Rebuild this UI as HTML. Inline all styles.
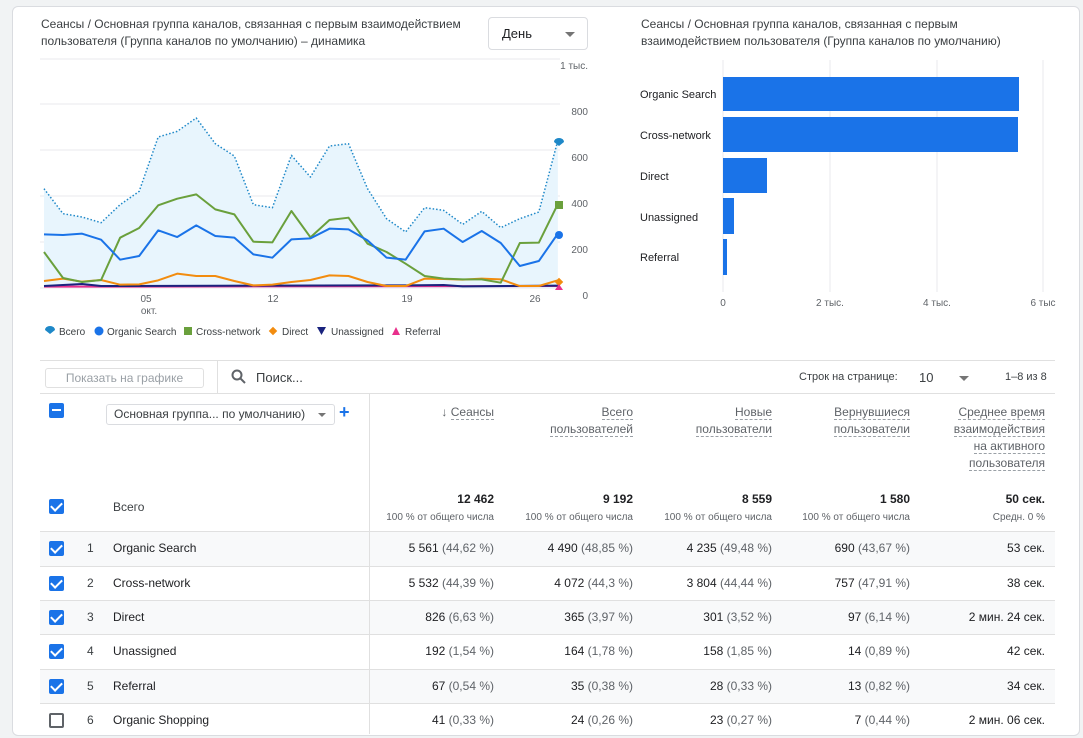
<!DOCTYPE html>
<html><head><meta charset="utf-8"><style>
*{margin:0;padding:0;box-sizing:border-box}
body{width:1083px;height:725px;overflow:hidden;background:#f1f3f4;font-family:"Liberation Sans",Arial,sans-serif;color:#3c4043;position:relative}
.card{position:absolute;left:12px;top:6px;width:1068px;height:730px;background:#fff;border:1px solid #dadce0;border-radius:6px}
.a{position:absolute;white-space:nowrap}
.t{font-size:12px;line-height:17px;color:#3c4043}
.hd{font-size:12px;line-height:17px;text-align:right;color:#5f6368}
.hd span{border-bottom:1px dashed #9aa0a6}
.num{font-size:12px;color:#202124;text-align:right}
.num i{font-style:normal;color:#5f6368}
.sub{font-size:10px;color:#5f6368;text-align:right}
.cb{position:absolute;left:49px;width:15px;height:15px;background:#1a73e8;border-radius:2px}
.cb:after{content:"";position:absolute;left:4px;top:1px;width:5px;height:9px;border:solid #fff;border-width:0 2px 2px 0;transform:rotate(45deg)}
.row{position:absolute;left:40px;width:1015px;height:35px;border-top:1px solid #e0e0e0}
.g{background:#f8f9fa}
</style></head><body>
<div class="card"></div>
<div class="a t" style="left:41px;top:16px">Сеансы / Основная группа каналов, связанная с первым взаимодействием<br>пользователя (Группа каналов по умолчанию) – динамика</div>
<div class="a" style="left:488px;top:17px;width:100px;height:33px;border:1px solid #dadce0;border-radius:4px;font-size:13px;line-height:31px;padding-left:13px;color:#202124">День<span style="position:absolute;right:12px;top:14px;border:5px solid transparent;border-top-color:#757575;border-bottom:0"></span></div>
<div class="a t" style="left:641px;top:16px">Сеансы / Основная группа каналов, связанная с первым<br>взаимодействием пользователя (Группа каналов по умолчанию)</div>

<svg class="a" style="left:0;top:0" width="1083" height="350">
<g stroke="#e8eaed" stroke-width="1">
<line x1="40" y1="59" x2="560" y2="59"/><line x1="40" y1="104" x2="560" y2="104"/><line x1="40" y1="150" x2="560" y2="150"/><line x1="40" y1="196" x2="560" y2="196"/><line x1="40" y1="242" x2="560" y2="242"/><line x1="40" y1="288" x2="560" y2="288"/>
<line x1="723" y1="60" x2="723" y2="292"/><line x1="830" y1="60" x2="830" y2="292"/><line x1="937" y1="60" x2="937" y2="292"/><line x1="1043" y1="60" x2="1043" y2="292"/>
</g>
<g font-size="10" fill="#5f6368" text-anchor="end">
<text x="588" y="69">1 тыс.</text><text x="588" y="115">800</text><text x="588" y="161">600</text><text x="588" y="207">400</text><text x="588" y="253">200</text><text x="588" y="299">0</text>
</g>
<g font-size="10" fill="#5f6368" text-anchor="middle">
<text x="146" y="302">05</text><text x="149" y="314">окт.</text><text x="273" y="302">12</text><text x="407" y="302">19</text><text x="535" y="302">26</text>
<text x="723" y="306">0</text><text x="830" y="306">2 тыс.</text><text x="937" y="306">4 тыс.</text><text x="1043" y="306">6 тыс</text>
</g>
<g transform="translate(30.2,48.7) scale(0.3632,0.3333)" fill="none" stroke-width="2" stroke-linejoin="round">
<path vector-effect="non-scaling-stroke" fill="#e8f5fd" stroke="none" d="M38,718 L38,420 90.4,495 142.8,505 195.2,522 247.6,468 300,428 352.4,265 404.8,248 457.2,208 509.6,285 562,322 614.4,468 666.8,477 719.2,320 771.6,385 824,292 876.4,285 928.8,420 981.2,510 1033.6,550 1086,477 1138.4,485 1190.8,527 1243.2,488 1295.6,537 1348,510 1400.4,490 1452.8,275 L1452.8,718Z"/>
<path vector-effect="non-scaling-stroke" stroke="#1e88c8" stroke-width="1.5" stroke-dasharray="1.5 2" d="M38,420 90.4,495 142.8,505 195.2,522 247.6,468 300,428 352.4,265 404.8,248 457.2,208 509.6,285 562,322 614.4,468 666.8,477 719.2,320 771.6,385 824,292 876.4,285 928.8,420 981.2,510 1033.6,550 1086,477 1138.4,485 1190.8,527 1243.2,488 1295.6,537 1348,510 1400.4,490 1452.8,275"/>
<path vector-effect="non-scaling-stroke" stroke="#e8308c" d="M38,714 L1452.8,712"/>
<path vector-effect="non-scaling-stroke" stroke="#1a237e" d="M38,712 142.8,706 195.2,712 1033.6,710 1138.4,709 1190.8,713 1452.8,711"/>
<path vector-effect="non-scaling-stroke" stroke="#f28c0f" d="M38,697 90.4,690 142.8,699 195.2,694 247.6,708 300,707 352.4,695 404.8,675 457.2,682 509.6,682 562,697 614.4,710 666.8,708 719.2,700 771.6,694 824,680 876.4,682 928.8,700 981.2,712 1033.6,712 1086,690 1138.4,691 1190.8,693 1243.2,690 1295.6,692 1348,712 1400.4,712 1452.8,695"/>
<path vector-effect="non-scaling-stroke" stroke="#6aa03c" d="M38,610 90.4,688 142.8,700 195.2,694 247.6,567 300,538 352.4,470 404.8,450 457.2,437 509.6,482 562,497 614.4,579 666.8,581 719.2,487 771.6,566 824,514 876.4,507 928.8,585 981.2,610 1033.6,645 1086,682 1138.4,690 1190.8,692 1243.2,692 1295.6,702 1348,583 1400.4,582 1452.8,466"/>
<path vector-effect="non-scaling-stroke" stroke="#1a73e8" d="M38,557 90.4,559 142.8,555 195.2,573 247.6,633 300,622 352.4,545 404.8,565 457.2,530 509.6,562 562,567 614.4,617 666.8,627 719.2,572 771.6,569 824,540 876.4,542 928.8,575 981.2,627 1033.6,633 1086,548 1138.4,540 1190.8,580 1243.2,547 1295.6,583 1348,652 1400.4,637 1452.8,555"/>
</g>
<circle cx="559" cy="235" r="4" fill="#1a73e8"/>
<rect x="555" y="201" width="8" height="8" fill="#6aa03c"/>
<rect x="556" y="279" width="6" height="6" fill="#f28c0f" transform="rotate(45 559 282)"/>
<polygon points="555,290 563,290 559,284" fill="#e8308c"/>
<path d="M554,142 a5,4 0 1 1 10,0 l-5,4z" fill="#1e88c8"/>
<g fill="#1a73e8"><rect x="723" y="77" width="296" height="34"/><rect x="723" y="117" width="295" height="35"/><rect x="723" y="158" width="44" height="35"/><rect x="723" y="198" width="11" height="36"/><rect x="723" y="239" width="4" height="36"/></g>
<g font-size="11" fill="#202124"><text x="640" y="98">Organic Search</text><text x="640" y="139">Cross-network</text><text x="640" y="180">Direct</text><text x="640" y="221">Unassigned</text><text x="640" y="261">Referral</text></g>
<g font-size="10" fill="#3c4043">
<path d="M45,330 a5,4 0 1 1 10,0 l-5,4z" fill="#1e88c8"/><text x="59" y="335">Всего</text>
<circle cx="99" cy="331" r="4.5" fill="#1a73e8"/><text x="107" y="335">Organic Search</text>
<rect x="184" y="327" width="8" height="8" fill="#6aa03c"/><text x="196" y="335">Cross-network</text>
<rect x="270" y="328" width="6" height="6" fill="#f28c0f" transform="rotate(45 273 331)"/><text x="282" y="335">Direct</text>
<polygon points="317,327 326,327 321.5,335" fill="#1a237e"/><text x="331" y="335">Unassigned</text>
<polygon points="392,335 400,335 396,327" fill="#e8308c"/><text x="405" y="335">Referral</text>
</g>
</svg>

<div class="a" style="left:40px;top:360px;width:1015px;border-top:1px solid #e0e0e0"></div>
<div class="a" style="left:45px;top:368px;width:159px;height:20px;border:1px solid #e0e0e0;border-radius:3px;font-size:12px;line-height:18px;text-align:center;color:#9aa0a6">Показать на графике</div>
<div class="a" style="left:217px;top:361px;height:32px;border-left:1px solid #e0e0e0"></div>
<svg class="a" style="left:231px;top:369px" width="16" height="16"><circle cx="6" cy="6" r="4.5" fill="none" stroke="#5f6368" stroke-width="2"/><line x1="9.5" y1="9.5" x2="14" y2="14" stroke="#5f6368" stroke-width="2"/></svg>
<div class="a" style="left:256px;top:370px;font-size:13px;color:#3c4043">Поиск...</div>
<div class="a" style="left:799px;top:371px;font-size:11px;color:#3c4043">Строк на странице:</div>
<div class="a" style="left:919px;top:370px;font-size:13px;color:#3c4043">10</div>
<div class="a" style="left:959px;top:376px;border:5px solid transparent;border-top-color:#757575;border-bottom:0"></div>
<div class="a" style="left:1005px;top:371px;font-size:11px;color:#3c4043">1–8 из 8</div>
<div class="a" style="left:40px;top:393px;width:1015px;border-top:1px solid #e0e0e0"></div>
<div class="a" style="left:369px;top:394px;height:340px;border-left:1px solid #e0e0e0"></div>

<div class="a" style="left:49px;top:403px;width:15px;height:15px;background:#1a73e8;border-radius:2px"><div style="position:absolute;left:3px;top:6px;width:9px;height:2px;background:#fff"></div></div>
<div class="a" style="left:106px;top:404px;width:229px;height:21px;border:1px solid #dadce0;border-radius:3px;font-size:12px;line-height:19px;padding-left:7px;color:#3c4043">Основная группа... по умолчанию)<span style="position:absolute;right:8px;top:8px;border:4px solid transparent;border-top-color:#757575;border-bottom:0"></span></div>
<div class="a" style="left:339px;top:402px;font-size:18px;color:#1a73e8;font-weight:bold">+</div>

<div class="a hd" style="right:589px;top:404px">↓ <span>Сеансы</span></div>
<div class="a hd" style="right:450px;top:404px"><span>Всего</span><br><span>пользователей</span></div>
<div class="a hd" style="right:311px;top:404px"><span>Новые</span><br><span>пользователи</span></div>
<div class="a hd" style="right:173px;top:404px"><span>Вернувшиеся</span><br><span>пользователи</span></div>
<div class="a hd" style="right:38px;top:404px"><span>Среднее время</span><br><span>взаимодействия</span><br><span>на активного</span><br><span>пользователя</span></div>

<div class="cb" style="top:499px"></div>
<div class="a t" style="left:113px;top:499px">Всего</div>
<div class="a num" style="right:589px;top:492px;font-weight:bold">12 462</div>
<div class="a num" style="right:450px;top:492px;font-weight:bold">9 192</div>
<div class="a num" style="right:311px;top:492px;font-weight:bold">8 559</div>
<div class="a num" style="right:173px;top:492px;font-weight:bold">1 580</div>
<div class="a num" style="right:38px;top:492px;font-weight:bold">50 сек.</div>
<div class="a sub" style="right:589px;top:512px">100 % от общего числа</div>
<div class="a sub" style="right:450px;top:512px">100 % от общего числа</div>
<div class="a sub" style="right:311px;top:512px">100 % от общего числа</div>
<div class="a sub" style="right:173px;top:512px">100 % от общего числа</div>
<div class="a sub" style="right:38px;top:512px">Средн. 0 %</div>

<div class="row g" style="top:531px"></div>
<div class="row" style="top:566px"></div>
<div class="row g" style="top:600px"></div>
<div class="row" style="top:634px"></div>
<div class="row g" style="top:669px"></div>
<div class="row" style="top:703px"></div>
<div class="a" style="left:369px;top:531px;height:200px;border-left:1px solid #e0e0e0"></div>

<div class="cb" style="top:541px"></div><div class="a t" style="left:87px;top:540px">1</div><div class="a t" style="left:113px;top:540px;color:#202124">Organic Search</div>
<div class="a num" style="right:589px;top:541px">5 561 <i>(44,62 %)</i></div><div class="a num" style="right:450px;top:541px">4 490 <i>(48,85 %)</i></div><div class="a num" style="right:311px;top:541px">4 235 <i>(49,48 %)</i></div><div class="a num" style="right:173px;top:541px">690 <i>(43,67 %)</i></div><div class="a num" style="right:38px;top:541px">53 сек.</div>

<div class="cb" style="top:576px"></div><div class="a t" style="left:87px;top:575px">2</div><div class="a t" style="left:113px;top:575px;color:#202124">Cross-network</div>
<div class="a num" style="right:589px;top:576px">5 532 <i>(44,39 %)</i></div><div class="a num" style="right:450px;top:576px">4 072 <i>(44,3 %)</i></div><div class="a num" style="right:311px;top:576px">3 804 <i>(44,44 %)</i></div><div class="a num" style="right:173px;top:576px">757 <i>(47,91 %)</i></div><div class="a num" style="right:38px;top:576px">38 сек.</div>

<div class="cb" style="top:610px"></div><div class="a t" style="left:87px;top:609px">3</div><div class="a t" style="left:113px;top:609px;color:#202124">Direct</div>
<div class="a num" style="right:589px;top:610px">826 <i>(6,63 %)</i></div><div class="a num" style="right:450px;top:610px">365 <i>(3,97 %)</i></div><div class="a num" style="right:311px;top:610px">301 <i>(3,52 %)</i></div><div class="a num" style="right:173px;top:610px">97 <i>(6,14 %)</i></div><div class="a num" style="right:38px;top:610px">2 мин. 24 сек.</div>

<div class="cb" style="top:644px"></div><div class="a t" style="left:87px;top:643px">4</div><div class="a t" style="left:113px;top:643px;color:#202124">Unassigned</div>
<div class="a num" style="right:589px;top:644px">192 <i>(1,54 %)</i></div><div class="a num" style="right:450px;top:644px">164 <i>(1,78 %)</i></div><div class="a num" style="right:311px;top:644px">158 <i>(1,85 %)</i></div><div class="a num" style="right:173px;top:644px">14 <i>(0,89 %)</i></div><div class="a num" style="right:38px;top:644px">42 сек.</div>

<div class="cb" style="top:679px"></div><div class="a t" style="left:87px;top:678px">5</div><div class="a t" style="left:113px;top:678px;color:#202124">Referral</div>
<div class="a num" style="right:589px;top:679px">67 <i>(0,54 %)</i></div><div class="a num" style="right:450px;top:679px">35 <i>(0,38 %)</i></div><div class="a num" style="right:311px;top:679px">28 <i>(0,33 %)</i></div><div class="a num" style="right:173px;top:679px">13 <i>(0,82 %)</i></div><div class="a num" style="right:38px;top:679px">34 сек.</div>

<div class="a" style="left:49px;top:713px;width:15px;height:15px;border:2px solid #5f6368;border-radius:2px"></div><div class="a t" style="left:87px;top:712px">6</div><div class="a t" style="left:113px;top:712px;color:#202124">Organic Shopping</div>
<div class="a num" style="right:589px;top:713px">41 <i>(0,33 %)</i></div><div class="a num" style="right:450px;top:713px">24 <i>(0,26 %)</i></div><div class="a num" style="right:311px;top:713px">23 <i>(0,27 %)</i></div><div class="a num" style="right:173px;top:713px">7 <i>(0,44 %)</i></div><div class="a num" style="right:38px;top:713px">2 мин. 06 сек.</div>
</body></html>
